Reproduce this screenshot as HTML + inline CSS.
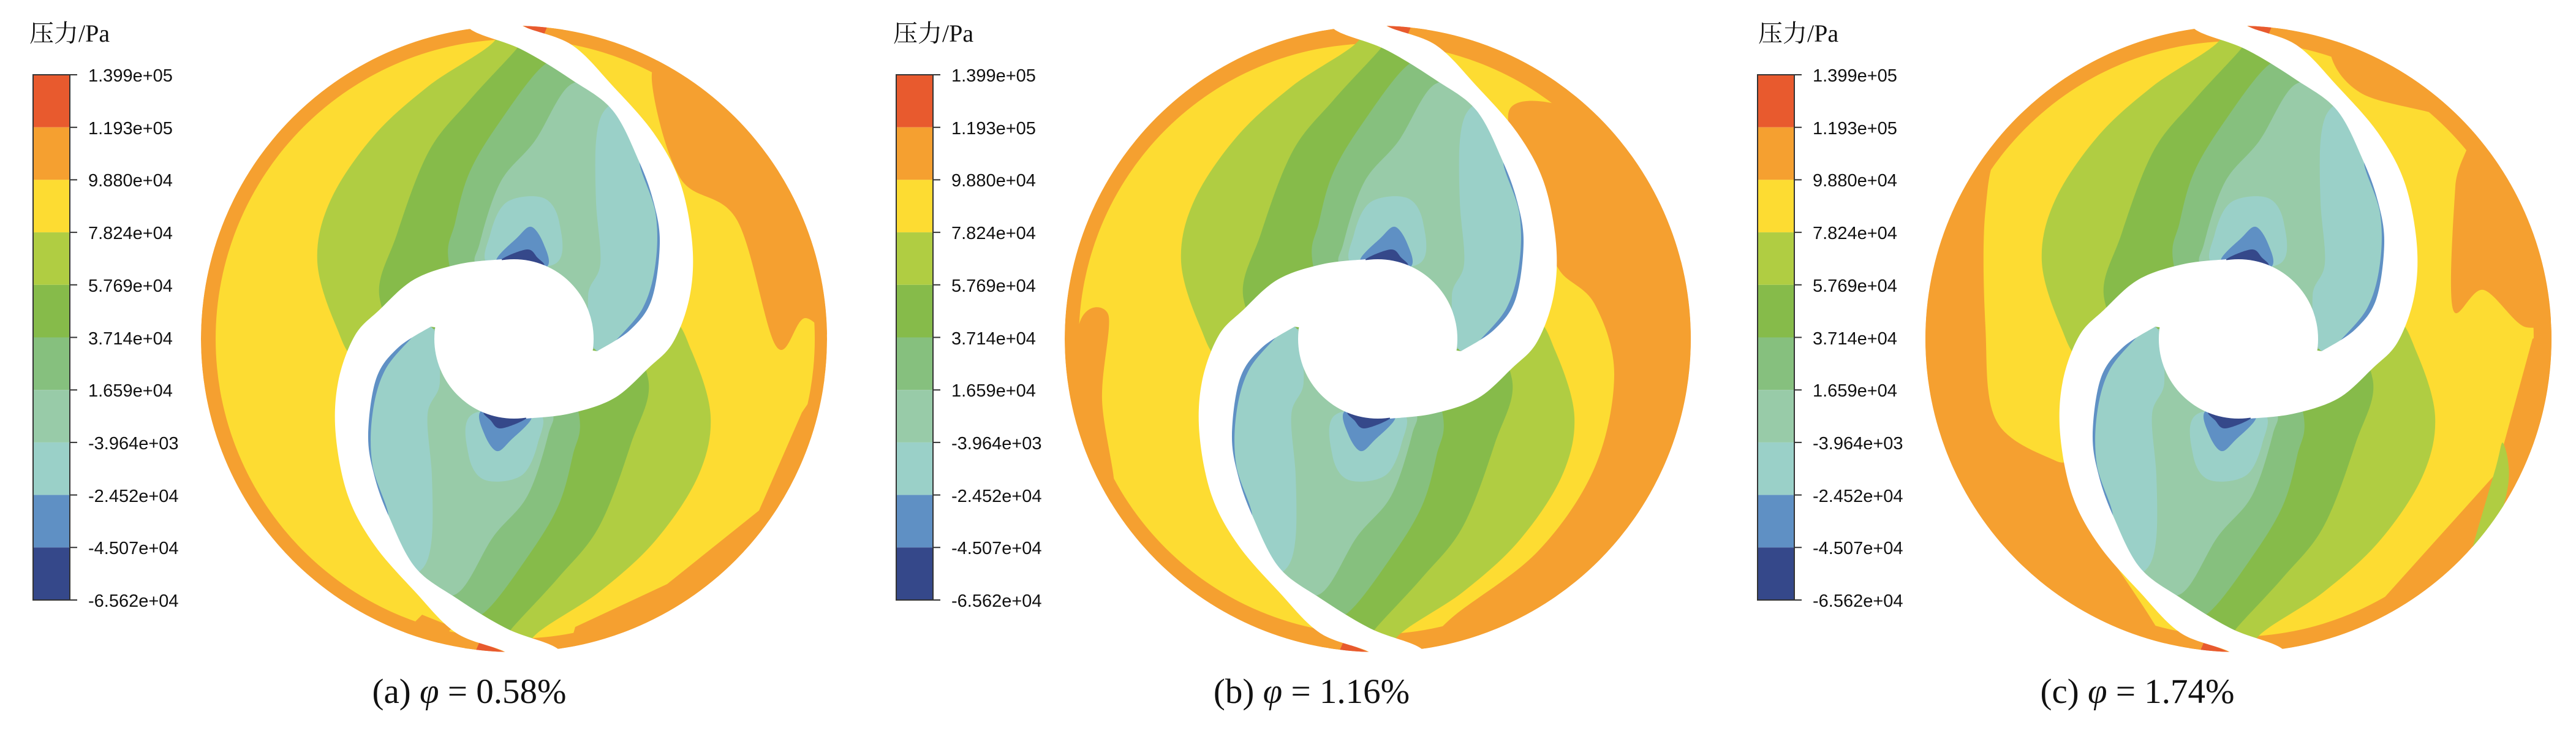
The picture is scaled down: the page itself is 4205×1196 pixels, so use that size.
<!DOCTYPE html>
<html><head><meta charset="utf-8"><style>
html,body{margin:0;padding:0;background:#fff;}
body{width:4205px;height:1196px;position:relative;overflow:hidden;}
.t{position:absolute;font-family:"Liberation Sans",sans-serif;font-size:29px;color:#111;line-height:1;}
.ti{position:absolute;font-family:"Liberation Serif","Noto Serif CJK SC",serif;font-size:40px;color:#111;line-height:1;}
.cap{position:absolute;font-family:"Liberation Serif",serif;font-size:57px;color:#111;line-height:1;white-space:nowrap;transform:translateX(-50%);}
svg{position:absolute;left:0;top:0;}
</style></head><body>
<svg id="S" width="4205" height="1196" viewBox="0 0 4205 1196" xmlns="http://www.w3.org/2000/svg">
<defs>
<clipPath id="cc"><circle cx="0" cy="0" r="511"/></clipPath>
<path id="p3" d=""/><path id="p4" d=""/><path id="p5" d=""/><path id="p6" d=""/>
<path id="p7" d=""/><path id="p8" d=""/><path id="p9" d=""/>
<g id="cl">
<use href="#p3" fill="#b0cd42"/><use href="#p3" fill="#b0cd42" transform="rotate(180)"/>
<use href="#p4" fill="#86bb4a"/><use href="#p4" fill="#86bb4a" transform="rotate(180)"/>
<use href="#p5" fill="#86c07e"/><use href="#p5" fill="#86c07e" transform="rotate(180)"/>
<use href="#p6" fill="#98cba8"/><use href="#p6" fill="#98cba8" transform="rotate(180)"/>
<use href="#p7" fill="#9ad0c8"/><use href="#p7" fill="#9ad0c8" transform="rotate(180)"/>
<use href="#p8" fill="#5f90c4"/><use href="#p8" fill="#5f90c4" transform="rotate(180)"/>
<use href="#p9" fill="#35488a"/><use href="#p9" fill="#35488a" transform="rotate(180)"/>
</g>
<path id="bl" d=""/>
<g id="white">
<use href="#bl" fill="#fff"/><use href="#bl" fill="#fff" transform="rotate(180)"/>
<circle cx="0" cy="0" r="130" fill="#fff"/>
</g>
<g id="tips">
<path d="M11,-513 L80,-505 L95,-470 L60,-480 Z" fill="#f5a030"/>
<path d="M11,-513 L54,-509 L48,-494 Z" fill="#e85a2e"/>
<path d="M-11,513 L-80,505 L-95,470 L-60,480 Z" fill="#f5a030"/>
<path d="M-11,513 L-62,508 L-56,494 Z" fill="#e85a2e"/>
</g>
</defs>

<g transform="translate(839,553)">
<g clip-path="url(#cc)">
<circle r="511" fill="#f5a030"/>
<circle r="489" cx="2" fill="#fddc32"/>
<path class="sm" d="M225,-423 L271,-263 L364,-194 L428,12 L475,-34 L530,0 L500,-150 L440,-290 L340,-400 L260,-460 Z" fill="#f5a030"/>
<path d="M511,60 A511,511 0 0 1 90,505 L100,470 L250,400 L400,280 L470,120 Z" fill="#f5a030"/>
<path d="M-100,470 L-130,505 L-180,480 L-150,450 Z" fill="#f5a030"/>
<use href="#cl"/>
<use href="#tips"/>
</g>
<use href="#white"/>
</g>

<g transform="translate(2249,553)">
<g clip-path="url(#cc)">
<circle r="511" fill="#f5a030"/>
<circle r="482" cx="-6" fill="#fddc32"/>
<path class="sm" d="M-490,-10 L-440,-40 L-450,100 L-430,250 L-470,260 Z" fill="#f5a030"/>
<path class="sm" d="M215,-374 L363,-353 L460,-200 L530,0 L480,250 L300,450 L76,530 L76,508 L122,454 L261,347 L354,210 L386,57 L354,-57 L298,-110 L275,-171 Z" fill="#f5a030"/>
<use href="#cl"/>
<use href="#tips"/>
</g>
<use href="#white"/>
</g>

<g transform="translate(3654,553)">
<g clip-path="url(#cc)">
<circle r="511" fill="#f5a030"/>
<circle r="486" cx="-4" fill="#fddc32"/>
<path class="sm" d="M-85,-530 L-300,-460 L-470,-250 L-530,0 L-470,250 L-300,430 L-113,520 L-252,286 L-261,199 L-298,199 L-395,134 L-413,-19 L-413,-210 L-381,-324 L-252,-439 L-85,-492 Z" fill="#f5a030"/>
<path class="sm" d="M150,-470 L202,-400 L368,-347 L354,-248 L350,-49 L400,-80 L470,-19 L520,-60 L470,-250 L330,-420 L200,-490 Z" fill="#f5a030"/>
<path d="M511,-20 A511,511 0 0 1 250,445 L240,420 L420,220 L480,0 Z" fill="#f5a030"/>
<path class="sm" d="M420,210 L432,170 L440,240 L400,380 L372,440 L360,420 L385,330 Z" fill="#b0cd42"/>
<use href="#cl"/>
<use href="#tips"/>
</g>
<use href="#white"/>
</g>

<g id="leg1">
<rect x="54" y="122" width="60" height="85.7" fill="#e85a2e"/>
<rect x="54" y="207.7" width="60" height="85.7" fill="#f5a030"/>
<rect x="54" y="293.4" width="60" height="85.7" fill="#fddc32"/>
<rect x="54" y="379.1" width="60" height="85.7" fill="#b0cd42"/>
<rect x="54" y="464.8" width="60" height="85.7" fill="#86bb4a"/>
<rect x="54" y="550.5" width="60" height="85.7" fill="#86c07e"/>
<rect x="54" y="636.2" width="60" height="85.7" fill="#98cba8"/>
<rect x="54" y="721.9" width="60" height="85.7" fill="#9ad0c8"/>
<rect x="54" y="807.6" width="60" height="85.7" fill="#5f90c4"/>
<rect x="54" y="893.3" width="60" height="85.7" fill="#35488a"/>
<rect x="54" y="122" width="60" height="857" fill="none" stroke="#333" stroke-width="2"/>
<path d="M114,122h12M114,207.7h12M114,293.4h12M114,379.1h12M114,464.8h12M114,550.5h12M114,636.2h12M114,721.9h12M114,807.6h12M114,893.3h12M114,979h12" stroke="#333" stroke-width="2"/>
</g>
<use href="#leg1" transform="translate(1409,0)"/>
<use href="#leg1" transform="translate(2815,0)"/>
</svg>

<script>
function cr(p,closed){
  var n=p.length,s="";
  function g(i){ if(closed) return p[(i+n)%n]; return p[Math.max(0,Math.min(n-1,i))]; }
  var m=closed?n:n-1;
  for(var i=0;i<m;i++){
    var p0=g(i-1),p1=g(i),p2=g(i+1),p3=g(i+2);
    var c1=[p1[0]+(p2[0]-p0[0])/6,p1[1]+(p2[1]-p0[1])/6];
    var c2=[p2[0]-(p3[0]-p1[0])/6,p2[1]-(p3[1]-p1[1])/6];
    s+=" C"+c1[0].toFixed(1)+","+c1[1].toFixed(1)+" "+c2[0].toFixed(1)+","+c2[1].toFixed(1)+" "+p2[0]+","+p2[1];
  }
  return s;
}
function closedPath(p){return "M"+p[0][0]+","+p[0][1]+cr(p,true)+"Z";}
var R=[[150,15],[215,-20],[262,-100],[268,-170],[250,-240],[215,-300],[160,-393],[94,-450],[11,-490],[-76,-525]];
function withR(left,upto){var r=R.slice(0,upto);return left.concat(r);}
function set(id,d){document.getElementById(id).setAttribute("d",d);}
set("p3",closedPath(withR([[-29,-490],[-139,-413],[-230,-330],[-300,-225],[-321,-126],[-290,-20],[-250,40],[-136,73],[0,0]],10)));
set("p4",closedPath(withR([[4,-473],[-72,-390],[-139,-306],[-191,-171],[-219,-65],[-150,40],[0,0]],9)));
set("p5",closedPath(withR([[48,-446],[-22,-356],[-72,-273],[-96,-190],[-106,-123],[-60,20],[0,0]],8)));
set("p6",closedPath(withR([[94,-416],[34,-323],[-22,-256],[-56,-156],[-60,-110],[0,0]],7)));
set("p7",closedPath([[148,-373],[134,-323],[134,-223],[141,-123],[121,-70],[136,20],[215,-20],[262,-100],[268,-170],[250,-240],[215,-300],[180,-380]])+
 closedPath([[-12,-223],[48,-230],[74,-190],[68,-123],[-39,-120],[-39,-170]]));
set("p8",closedPath([[205,-290],[231,-206],[231,-123],[210,-50],[160,10],[150,30],[240,-20],[262,-100],[268,-200],[240,-290]])+
 closedPath([[-29,-128],[5,-165],[28,-183],[48,-156],[54,-118],[0,-112]]));
set("p9",closedPath([[-22,-128],[21,-146],[38,-133],[48,-118],[0,-115]]));
var outer=[[15,-545],[11,-513],[94,-480],[161,-413],[228,-336],[271,-256],[291,-156],[287,-70],[260,5],[220,47],[163,97],[90,122],[20,130]];
var inner=[[136,20],[190,-15],[225,-65],[238,-156],[228,-223],[204,-290],[161,-373],[94,-423],[11,-473],[-72,-506],[-80,-545]];
set("bl","M"+outer[0][0]+","+outer[0][1]+cr(outer,false)+" L0,0 L"+inner[0][0]+","+inner[0][1]+cr(inner,false)+" Z");
var sms=document.querySelectorAll("path.sm");
for(var k=0;k<sms.length;k++){
  var d=sms[k].getAttribute("d").replace(/[MLZ]/g," ").trim().split(/\s+/).map(function(t){return t.split(",").map(Number);});
  sms[k].setAttribute("d",closedPath(d));
}
</script>

<div class="ti" style="left:48px;top:35px">压力/Pa</div>
<div class="ti" style="left:1458px;top:35px">压力/Pa</div>
<div class="ti" style="left:2870px;top:35px">压力/Pa</div>

<div style="position:absolute;left:0;top:0">
<div class="t" style="left:144px;top:110px">1.399e+05</div>
<div class="t" style="left:144px;top:196px">1.193e+05</div>
<div class="t" style="left:144px;top:281px">9.880e+04</div>
<div class="t" style="left:144px;top:367px">7.824e+04</div>
<div class="t" style="left:144px;top:453px">5.769e+04</div>
<div class="t" style="left:144px;top:539px">3.714e+04</div>
<div class="t" style="left:144px;top:624px">1.659e+04</div>
<div class="t" style="left:144px;top:710px">-3.964e+03</div>
<div class="t" style="left:144px;top:796px">-2.452e+04</div>
<div class="t" style="left:144px;top:881px">-4.507e+04</div>
<div class="t" style="left:144px;top:967px">-6.562e+04</div>
</div>
<div style="position:absolute;left:1409px;top:0">
<div class="t" style="left:144px;top:110px">1.399e+05</div>
<div class="t" style="left:144px;top:196px">1.193e+05</div>
<div class="t" style="left:144px;top:281px">9.880e+04</div>
<div class="t" style="left:144px;top:367px">7.824e+04</div>
<div class="t" style="left:144px;top:453px">5.769e+04</div>
<div class="t" style="left:144px;top:539px">3.714e+04</div>
<div class="t" style="left:144px;top:624px">1.659e+04</div>
<div class="t" style="left:144px;top:710px">-3.964e+03</div>
<div class="t" style="left:144px;top:796px">-2.452e+04</div>
<div class="t" style="left:144px;top:881px">-4.507e+04</div>
<div class="t" style="left:144px;top:967px">-6.562e+04</div>
</div>
<div style="position:absolute;left:2815px;top:0">
<div class="t" style="left:144px;top:110px">1.399e+05</div>
<div class="t" style="left:144px;top:196px">1.193e+05</div>
<div class="t" style="left:144px;top:281px">9.880e+04</div>
<div class="t" style="left:144px;top:367px">7.824e+04</div>
<div class="t" style="left:144px;top:453px">5.769e+04</div>
<div class="t" style="left:144px;top:539px">3.714e+04</div>
<div class="t" style="left:144px;top:624px">1.659e+04</div>
<div class="t" style="left:144px;top:710px">-3.964e+03</div>
<div class="t" style="left:144px;top:796px">-2.452e+04</div>
<div class="t" style="left:144px;top:881px">-4.507e+04</div>
<div class="t" style="left:144px;top:967px">-6.562e+04</div>
</div>

<div class="cap" style="left:766px;top:1100px">(a) <i>φ</i> = 0.58%</div>
<div class="cap" style="left:2141px;top:1100px">(b) <i>φ</i> = 1.16%</div>
<div class="cap" style="left:3489px;top:1100px">(c) <i>φ</i> = 1.74%</div>
</body></html>
